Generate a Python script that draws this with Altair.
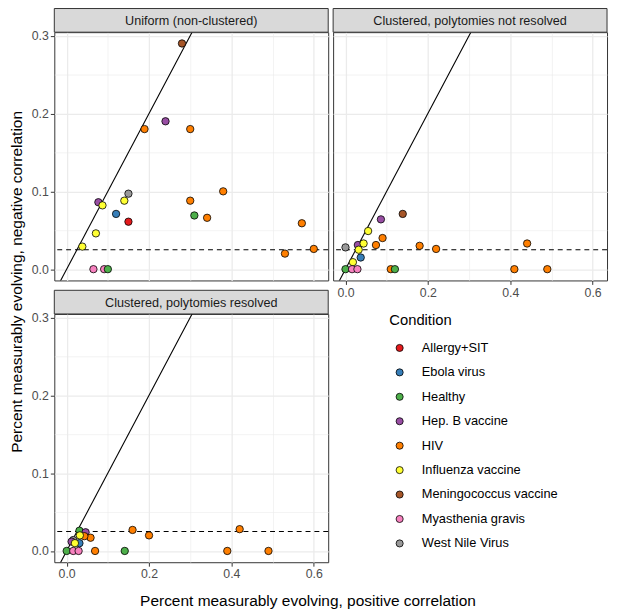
import altair as alt
import pandas as pd

FONT = "Liberation Sans"

conditions = ["Allergy+SIT", "Ebola virus", "Healthy", "Hep. B vaccine", "HIV",
              "Influenza vaccine", "Meningococcus vaccine", "Myasthenia gravis", "West Nile Virus"]
palette = ["#E41A1C", "#377EB8", "#4DAF4A", "#984EA3", "#FF7F00",
           "#FFFF33", "#A65628", "#F781BF", "#999999"]

panel_titles = ["Uniform (non-clustered)",
                "Clustered, polytomies not resolved",
                "Clustered, polytomies resolved"]

# Panel 1: Uniform (non-clustered)
p1_cond = ["Meningococcus vaccine", "HIV", "Hep. B vaccine", "HIV", "HIV", "West Nile Virus",
           "Hep. B vaccine", "Influenza vaccine", "Influenza vaccine", "HIV", "Ebola virus",
           "Healthy", "HIV", "Allergy+SIT", "Influenza vaccine", "HIV", "Influenza vaccine",
           "HIV", "HIV", "Myasthenia gravis", "Myasthenia gravis", "Healthy"]
p1_x = [0.28, 0.189, 0.24, 0.30, 0.38, 0.15, 0.077, 0.087, 0.14, 0.30, 0.12,
        0.31, 0.341, 0.15, 0.071, 0.571, 0.038, 0.53, 0.60, 0.065, 0.091, 0.10]
p1_y = [0.29, 0.18, 0.19, 0.18, 0.10, 0.097, 0.086, 0.082, 0.088, 0.088, 0.071,
        0.069, 0.066, 0.061, 0.046, 0.059, 0.029, 0.020, 0.026, 0.0, 0.0, 0.0]

# Panel 2: Clustered, polytomies not resolved
p2_cond = ["West Nile Virus", "Hep. B vaccine", "Influenza vaccine", "Influenza vaccine",
           "Influenza vaccine", "Hep. B vaccine", "Meningococcus vaccine", "HIV", "HIV", "HIV",
           "HIV", "HIV", "Ebola virus", "Influenza vaccine", "Healthy", "Myasthenia gravis",
           "Myasthenia gravis", "HIV", "Healthy", "HIV", "HIV"]
p2_x = [0.0, 0.030, 0.032, 0.044, 0.055, 0.086, 0.139, 0.074, 0.09, 0.18,
        0.22, 0.441, 0.037, 0.018, 0.0, 0.016, 0.029, 0.11, 0.12, 0.41, 0.49]
p2_y = [0.028, 0.031, 0.025, 0.033, 0.049, 0.064, 0.071, 0.031, 0.040, 0.030,
        0.026, 0.033, 0.015, 0.009, 0.0, 0.0, 0.0, 0.0, 0.0, 0.0, 0.0]

# Panel 3: Clustered, polytomies resolved
p3_cond = ["HIV", "HIV", "HIV", "HIV", "HIV", "Healthy", "HIV", "Healthy",
           "Myasthenia gravis", "Myasthenia gravis", "Healthy", "Hep. B vaccine", "HIV", "HIV",
           "Influenza vaccine", "West Nile Virus", "Hep. B vaccine", "Ebola virus",
           "Influenza vaccine"]
p3_x = [0.16, 0.20, 0.42, 0.39, 0.49, 0.141, 0.069, 0.0, 0.016, 0.029,
        0.031, 0.046, 0.058, 0.043, 0.032, 0.016, 0.012, 0.031, 0.020]
p3_y = [0.027, 0.020, 0.028, 0.0, 0.0, 0.0, 0.0, 0.0, 0.0, 0.0,
        0.026, 0.024, 0.017, 0.019, 0.020, 0.014, 0.012, 0.010, 0.010]

ref_line_x = [-0.05, 0.35]   # identity line y = x
threshold = 0.025
x_ticks = [0.0, 0.1, 0.2, 0.3, 0.4, 0.5, 0.6]
y_ticks = [0.0, 0.05, 0.1, 0.15, 0.2, 0.25, 0.3]
x_domain = [-0.03, 0.635]
y_domain = [-0.0145, 0.3045]

W, H, SH = 278, 252, 24

x_major = "round(datum.value*10) % 2 == 0"
y_major = "round(datum.value*20) % 2 == 0"


def grid_axis(major_test, values, show_labels, **kw):
    args = dict(
        values=values,
        grid=True,
        gridColor="#EBEBEB",
        gridWidth={"condition": {"test": major_test, "value": 1.3}, "value": 0.6},
        domain=False,
        format=".1f",
    )
    if show_labels:
        args.update(
            labels=True,
            ticks=True,
            tickOpacity={"condition": {"test": major_test, "value": 1}, "value": 0},
            labelExpr="(%s) ? datum.label : ''" % major_test,
        )
    else:
        args.update(labels=False, ticks=False)
    args.update(kw)
    return alt.Axis(**args)


def panel(title, cond, xs, ys, show_x, show_y, x_title_kw=None, y_title_kw=None):
    df = pd.DataFrame({"x": xs, "y": ys, "Condition": cond})
    xkw = dict(x_title_kw or {})
    ykw = dict(y_title_kw or {})
    xt = xkw.pop("title", "")
    yt = ykw.pop("title", "")
    xaxis = grid_axis(x_major, x_ticks, show_x, **xkw)
    yaxis = grid_axis(y_major, y_ticks, show_y, **ykw)
    xenc = alt.X("x:Q", scale=alt.Scale(domain=x_domain, nice=False, zero=False), axis=xaxis,
                 title=xt)
    yenc = alt.Y("y:Q", scale=alt.Scale(domain=y_domain, nice=False, zero=False), axis=yaxis,
                 title=yt)

    line_df = pd.DataFrame({"x": ref_line_x, "y": ref_line_x})
    ref = alt.Chart(line_df).mark_line(color="black", strokeWidth=1.1, clip=True).encode(
        x=xenc, y=yenc)
    hline = alt.Chart(pd.DataFrame({"t": [threshold]})).mark_rule(
        color="black", strokeWidth=1.1, strokeDash=[5, 4]).encode(y="t:Q")

    leg = alt.Legend(
        orient="none", legendX=340, legendY=285, title="Condition",
        titleFont=FONT, titleFontSize=15, titleFontWeight="normal", titleColor="black",
        titlePadding=14, labelFont=FONT, labelFontSize=13, labelColor="black",
        symbolType="circle", symbolSize=52, symbolStrokeColor="black",
        symbolStrokeWidth=0.8, symbolOffset=4, labelOffset=16, rowPadding=10.8,
    )
    pts = alt.Chart(df).mark_circle(size=56, stroke="black", strokeWidth=0.8, opacity=1).encode(
        x="x:Q", y="y:Q",
        color=alt.Color("Condition:N", scale=alt.Scale(domain=conditions, range=palette),
                        legend=leg),
    )
    # facet strip drawn just above the plot area
    strip_df = pd.DataFrame({"label": [title]})
    strip_bg = alt.Chart(strip_df).mark_rect(
        fill="#D9D9D9", stroke="#333333", strokeWidth=1, clip=False
    ).encode(x=alt.value(0), x2=alt.value(W), y=alt.value(-SH), y2=alt.value(0))
    strip_txt = alt.Chart(strip_df).mark_text(
        font=FONT, fontSize=12.8, color="#1A1A1A", clip=False
    ).encode(text="label:N", x=alt.value(W / 2), y=alt.value(-SH / 2 + 0.5))

    layer = alt.layer(hline, ref, pts, strip_bg, strip_txt).properties(
        width=W, height=H,
        view=alt.ViewBackground(fill="white", stroke="#333333", strokeWidth=1))
    return layer


p1 = panel(panel_titles[0], p1_cond, p1_x, p1_y, False, True,
           y_title_kw=dict(title="Percent measurably evolving, negative correlation",
                           titleX=-30, titleY=H + 1))
p2 = panel(panel_titles[1], p2_cond, p2_x, p2_y, True, False)
p3 = panel(panel_titles[2], p3_cond, p3_x, p3_y, True, True,
           x_title_kw=dict(title="Percent measurably evolving, positive correlation",
                           titleX=257, titleY=32, titleBaseline="top"))

chart = alt.concat(p1, p2, p3, columns=2, spacing={"row": 10 + SH, "column": 5},
                   bounds="flush").configure(
    font=FONT, background="white"
).configure_axis(
    labelFont=FONT, labelFontSize=12.5, labelColor="#4D4D4D", labelPadding=2,
    tickColor="#333333", tickSize=4, tickWidth=1,
    titleFont=FONT, titleFontSize=15.7, titleFontWeight="normal", titleColor="black",
).properties(padding={"left": 0, "top": -5, "right": 0, "bottom": 0})

chart.save("out.html", embed_options={"renderer": "svg", "actions": False})
